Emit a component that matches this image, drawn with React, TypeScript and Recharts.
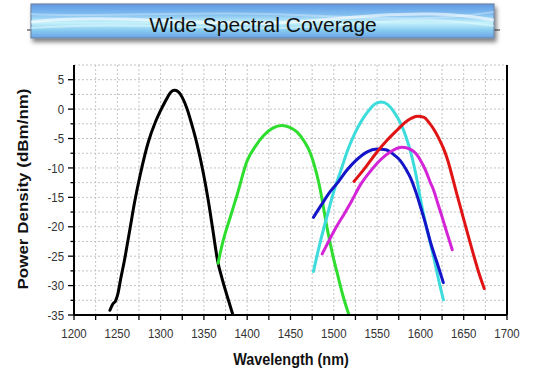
import React from 'react';
import { LineChart, Line, XAxis, YAxis, CartesianGrid, ReferenceLine } from 'recharts';

const titleText = 'Wide Spectral Coverage';
const xAxisTitle = 'Wavelength (nm)';
const yAxisTitle = 'Power Density (dBm/nm)';

const xTicks = [1200, 1225, 1250, 1275, 1300, 1325, 1350, 1375, 1400, 1425, 1450, 1475, 1500, 1525, 1550, 1575, 1600, 1625, 1650, 1675, 1700];
const yTicks = [-35, -32.5, -30, -27.5, -25, -22.5, -20, -17.5, -15, -12.5, -10, -7.5, -5, -2.5, 0, 2.5, 5];

const blackCurve = [
  { x: 1241.5, y: -34.2 }, { x: 1245, y: -33.1 }, { x: 1248, y: -32.6 }, { x: 1250.5, y: -31.5 },
  { x: 1254, y: -28.8 }, { x: 1258, y: -25.9 }, { x: 1264.8, y: -20.2 }, { x: 1270, y: -15.8 },
  { x: 1276.4, y: -11.2 }, { x: 1286, y: -5.5 }, { x: 1294, y: -2.2 }, { x: 1301.5, y: 0.2 },
  { x: 1308, y: 2.0 }, { x: 1312, y: 2.9 }, { x: 1316, y: 3.2 }, { x: 1320, y: 3.0 },
  { x: 1325, y: 2.0 }, { x: 1330.4, y: 0.1 }, { x: 1336, y: -2.6 }, { x: 1342, y: -5.9 },
  { x: 1349.5, y: -11 }, { x: 1355, y: -15.5 }, { x: 1360, y: -20.2 }, { x: 1366, y: -25.9 },
  { x: 1371, y: -28.8 }, { x: 1376.5, y: -31.6 }, { x: 1383.5, y: -35 },
];

const greenCurve = [
  { x: 1366.3, y: -26.2 }, { x: 1372, y: -22.5 }, { x: 1380.6, y: -18.3 }, { x: 1388.3, y: -14.6 },
  { x: 1399.9, y: -8.8 }, { x: 1410, y: -6.2 }, { x: 1419, y: -4.5 }, { x: 1430, y: -3.2 },
  { x: 1440, y: -2.8 }, { x: 1449, y: -3.1 }, { x: 1457.7, y: -3.9 }, { x: 1466, y: -5.5 },
  { x: 1473, y: -7.5 }, { x: 1478, y: -9.8 }, { x: 1482.8, y: -12.6 }, { x: 1487, y: -15.8 },
  { x: 1490.5, y: -18.8 }, { x: 1495, y: -22.2 }, { x: 1500, y: -25.6 }, { x: 1505, y: -28.5 },
  { x: 1509.8, y: -31.3 }, { x: 1517.5, y: -35 },
];

const cyanCurve = [
  { x: 1476.5, y: -27.6 }, { x: 1484, y: -22.8 }, { x: 1492, y: -18.3 }, { x: 1500, y: -14 },
  { x: 1508, y: -10.5 }, { x: 1516, y: -7 }, { x: 1524, y: -4.2 }, { x: 1532, y: -2 },
  { x: 1540, y: -0.3 }, { x: 1548, y: 0.9 }, { x: 1555, y: 1.2 }, { x: 1562, y: 0.8 },
  { x: 1570, y: -0.6 }, { x: 1577, y: -2.4 }, { x: 1584, y: -5 }, { x: 1590, y: -8 },
  { x: 1596, y: -12 }, { x: 1601, y: -16 }, { x: 1606, y: -19.5 }, { x: 1611, y: -22.5 },
  { x: 1616, y: -25.6 }, { x: 1621, y: -29 }, { x: 1626.5, y: -32.4 },
];

const blueCurve = [
  { x: 1476.5, y: -18.4 }, { x: 1486, y: -16.2 }, { x: 1496, y: -14 }, { x: 1505, y: -12.4 },
  { x: 1515, y: -10.4 }, { x: 1525, y: -8.8 }, { x: 1538, y: -7.3 }, { x: 1550, y: -6.8 },
  { x: 1560, y: -6.9 }, { x: 1568, y: -7.6 }, { x: 1577, y: -8.8 }, { x: 1584, y: -10.4 },
  { x: 1589, y: -11.8 }, { x: 1595, y: -14.2 }, { x: 1600.5, y: -16.8 }, { x: 1606, y: -19.5 },
  { x: 1612, y: -22.8 }, { x: 1619, y: -26 }, { x: 1626.5, y: -29.5 },
];

const magentaCurve = [
  { x: 1486.6, y: -24.6 }, { x: 1495, y: -22.2 }, { x: 1503, y: -20 }, { x: 1511.7, y: -17.9 },
  { x: 1520, y: -15.8 }, { x: 1531, y: -12.8 }, { x: 1542, y: -10.6 }, { x: 1554, y: -8.6 },
  { x: 1566, y: -7.2 }, { x: 1579, y: -6.5 }, { x: 1588, y: -6.8 }, { x: 1595, y: -7.6 },
  { x: 1600.5, y: -8.8 }, { x: 1606, y: -10.4 }, { x: 1611, y: -12.3 }, { x: 1615.8, y: -14 },
  { x: 1620, y: -16 }, { x: 1625.6, y: -18.6 }, { x: 1631, y: -21.2 }, { x: 1636.8, y: -23.9 },
];

const redCurve = [
  { x: 1523.3, y: -12.3 }, { x: 1535, y: -10.2 }, { x: 1550.3, y: -7.2 }, { x: 1562, y: -5.2 },
  { x: 1573.5, y: -3.5 }, { x: 1582, y: -2.3 }, { x: 1589, y: -1.6 }, { x: 1596.5, y: -1.2 },
  { x: 1604.3, y: -1.4 }, { x: 1610, y: -2.3 }, { x: 1615.8, y: -3.5 }, { x: 1621, y: -4.9 },
  { x: 1627, y: -6.8 }, { x: 1632, y: -8.9 }, { x: 1637, y: -11.6 }, { x: 1642, y: -14.4 },
  { x: 1647, y: -17.1 }, { x: 1652, y: -19.8 }, { x: 1657, y: -22.5 }, { x: 1662, y: -25.1 },
  { x: 1667, y: -27.6 }, { x: 1673.7, y: -30.5 },
];

const series = [
  { name: 'black', data: blackCurve, color: '#000000' },
  { name: 'green', data: greenCurve, color: '#2ede2e' },
  { name: 'cyan', data: cyanCurve, color: '#3cdcdc' },
  { name: 'blue', data: blueCurve, color: '#1414c8' },
  { name: 'magenta', data: magentaCurve, color: '#d424d8' },
  { name: 'red', data: redCurve, color: '#e01414' },
];

const FONT = '"Liberation Sans", Arial, sans-serif';

const XTick = (props: any) => {
  const { x, y, payload } = props;
  const v = payload.value as number;
  const major = v % 50 === 0;
  return (
    <g>
      <line x1={x} x2={x} y1={y} y2={y + 5} stroke="#000" strokeWidth={1.3} />
      {major && (
        <text
          transform={`translate(${x} ${y + 22.5}) scale(0.88 1)`}
          textAnchor="middle"
          fontSize={13}
          fill="#333"
          fontFamily={FONT}
        >
          {v}
        </text>
      )}
    </g>
  );
};

const YTick = (props: any) => {
  const { x, y, payload } = props;
  const v = payload.value as number;
  const major = v % 5 === 0;
  return (
    <g>
      <line x1={x} x2={x - (major ? 6 : 3.5)} y1={y} y2={y} stroke="#000" strokeWidth={1.3} />
      {major && (
        <text
          transform={`translate(${x - 10} ${y + 4.6}) scale(0.88 1)`}
          textAnchor="end"
          fontSize={13}
          fill="#333"
          fontFamily={FONT}
        >
          {v}
        </text>
      )}
    </g>
  );
};

export default function App() {
  return (
    <div style={{ position: 'absolute', left: 0, top: 0, width: 533, height: 379, background: '#fff', overflow: 'hidden' }}>
      <div style={{ position: 'absolute', left: 0, top: 0 }}>
        <LineChart width={533} height={379} margin={{ top: 65, right: 26, bottom: 0, left: 0 }}>
          <CartesianGrid stroke="#c4c4c4" strokeDasharray="2 2" strokeWidth={1} />
          <XAxis
            type="number"
            dataKey="x"
            domain={[1200, 1700]}
            ticks={xTicks}
            interval={0}
            height={64}
            tickSize={0}
            tickMargin={0}
            tickLine={false}
            axisLine={{ stroke: '#000', strokeWidth: 2 }}
            tick={<XTick />}
            allowDataOverflow
          />
          <YAxis
            type="number"
            domain={[-35, 7.5]}
            ticks={yTicks}
            interval={0}
            width={74}
            tickSize={0}
            tickMargin={0}
            tickLine={false}
            axisLine={{ stroke: '#000', strokeWidth: 2 }}
            tick={<YTick />}
            allowDataOverflow
          />
          <ReferenceLine x={1700} stroke="#000" strokeWidth={2} />
          {series.map((s) => (
            <Line
              key={s.name}
              data={s.data}
              dataKey="y"
              type="monotone"
              stroke={s.color}
              strokeWidth={3}
              strokeLinecap="round"
              strokeLinejoin="round"
              dot={false}
              activeDot={false}
              isAnimationActive={false}
            />
          ))}
        </LineChart>
      </div>
      <svg width={533} height={379} style={{ position: 'absolute', left: 0, top: 0, pointerEvents: 'none' }}>
        <defs>
          <linearGradient id="bannerBg" x1="0" y1="0" x2="0" y2="1">
            <stop offset="0" stopColor="#5f98e4" />
            <stop offset="0.3" stopColor="#7fbdf0" />
            <stop offset="0.55" stopColor="#c6f2fb" />
            <stop offset="0.78" stopColor="#86caf0" />
            <stop offset="1" stopColor="#6aa2e6" />
          </linearGradient>
          <filter id="bannerShadow" x="-5%" y="-20%" width="110%" height="170%">
            <feDropShadow dx="2" dy="3.5" stdDeviation="2.2" floodColor="#000" floodOpacity="0.5" />
          </filter>
          <clipPath id="bannerClip">
            <rect x={31} y={4} width={463} height={34} />
          </clipPath>
        </defs>
        <line x1={27} y1={30} x2={500} y2={30} stroke="#333" strokeWidth={1} />
        <rect x={31} y={4} width={463} height={34} fill="url(#bannerBg)" stroke="#6f86a6" strokeWidth={1.2} filter="url(#bannerShadow)" />
        <g clipPath="url(#bannerClip)">
          <path d="M31 22 C 120 12, 220 30, 320 20 S 460 14, 494 20" stroke="#ffffff" strokeOpacity={0.6} strokeWidth={3} fill="none" />
          <path d="M31 28 C 140 20, 240 34, 340 25 S 460 22, 494 26" stroke="#e8ffff" strokeOpacity={0.45} strokeWidth={2} fill="none" />
          <path d="M31 14 C 100 18, 200 10, 300 15 S 440 20, 494 12" stroke="#ffffff" strokeOpacity={0.3} strokeWidth={2} fill="none" />
        </g>
        <text x={263} y={32} textAnchor="middle" fontSize={21} fill="#111" fontFamily={FONT}>
          {titleText}
        </text>
        <text
          transform="translate(291 365) scale(0.9 1)"
          textAnchor="middle"
          fontSize={16}
          fontWeight="bold"
          fill="#111"
          fontFamily={FONT}
        >
          {xAxisTitle}
        </text>
        <text
          transform="translate(28 189) rotate(-90) scale(1 0.88)"
          textAnchor="middle"
          fontSize={17}
          fontWeight="bold"
          fill="#111"
          fontFamily={FONT}
        >
          {yAxisTitle}
        </text>
      </svg>
    </div>
  );
}
